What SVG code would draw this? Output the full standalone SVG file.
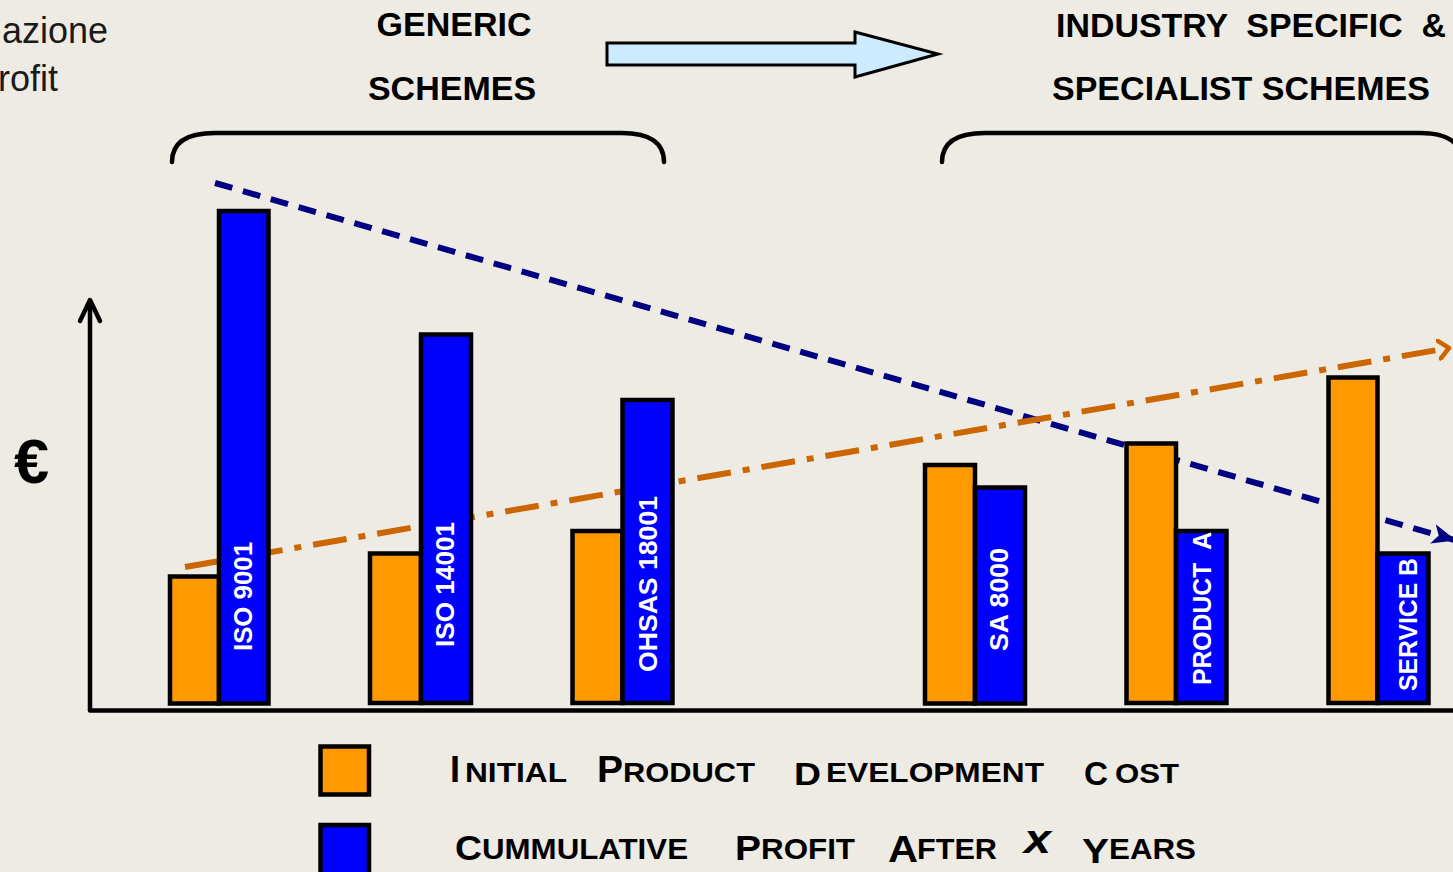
<svg xmlns="http://www.w3.org/2000/svg" width="1453" height="872" viewBox="0 0 1453 872">
<defs>
<style>
.bg{fill:#EEEBE4}
.hd{font-family:"Liberation Sans",Arial,sans-serif;font-weight:bold;font-size:34px;fill:#000}
.side{font-family:"Liberation Sans",Arial,sans-serif;font-size:36px;fill:#1a1a1a}
.org{fill:#FF9900;stroke:#000;stroke-width:4.5}
.blu{fill:#0000FF;stroke:#000;stroke-width:4.5}
.lbl{font-family:"Liberation Sans",Arial,sans-serif;font-weight:bold;font-size:26px;fill:#fff}
.lg{font-family:"Liberation Sans",Arial,sans-serif;font-weight:bold;fill:#000}
.brk{fill:none;stroke:#000;stroke-width:4.5;stroke-linecap:round}
.axis{fill:none;stroke:#000;stroke-width:4.5;stroke-linecap:round;stroke-linejoin:round}
</style>
<marker id="ahBlue" markerUnits="userSpaceOnUse" markerWidth="26" markerHeight="22" refX="24" refY="11" orient="auto" viewBox="0 0 26 22">
<path d="M0,1 L24,11 L0,21 L6,11 z" fill="#000080"/>
</marker>
<marker id="ahOrange" markerUnits="userSpaceOnUse" markerWidth="16" markerHeight="22" refX="12" refY="11" orient="auto" viewBox="0 0 16 22">
<path d="M2,2 L12,11 L2,20" fill="none" stroke="#CC6600" stroke-width="4.5" stroke-linecap="round" stroke-linejoin="round"/>
</marker>
</defs>
<rect class="bg" x="0" y="0" width="1453" height="872"/>

<g id="side-text">
<text class="side" x="108" y="43" text-anchor="end">azione</text>
<text class="side" x="58" y="91" text-anchor="end">rofit</text>
</g>

<g id="generic-header">
<text class="hd" x="454" y="36" text-anchor="middle">GENERIC</text>
<text class="hd" x="452" y="100" text-anchor="middle">SCHEMES</text>
<path class="brk" d="M172,162 C172,142 188,133 215,133 L622,133 C648,133 664,142 664,162"/>
</g>

<g id="specific-header">
<text class="hd" x="1056" y="37" textLength="390" lengthAdjust="spacingAndGlyphs" xml:space="preserve">INDUSTRY  SPECIFIC  &amp;</text>
<text class="hd" x="1052" y="100" textLength="378" lengthAdjust="spacingAndGlyphs">SPECIALIST SCHEMES</text>
<path class="brk" d="M942,162 C942,142 958,133 985,133 L1420,133 C1446,133 1462,142 1462,162"/>
</g>

<g id="transition-arrow">
<polygon points="607,43 855,43 855,32 938,54 855,77 855,65 607,65" fill="#CCEBFE" stroke="#000" stroke-width="3" stroke-linejoin="miter"/>
</g>

<g id="connectors">
<line x1="215" y1="183" x2="1456" y2="540.5" stroke="#000080" stroke-width="6" stroke-dasharray="18 11" marker-end="url(#ahBlue)"/>
<line x1="185" y1="567" x2="1449" y2="348" stroke="#CC6600" stroke-width="6" stroke-dasharray="34 12 7 12" marker-end="url(#ahOrange)"/>
</g>

<g id="axes">
<path class="axis" d="M90,710 L90,301"/>
<path class="axis" d="M80,321 L90,300 L100,321"/>
<path class="axis" d="M90,710.5 L1460,710.5" stroke-linecap="butt"/>
<text x="14" y="483" font-family="Liberation Sans, Arial, sans-serif" font-weight="bold" font-size="63" fill="#000">€</text>
</g>

<g id="iso9001">
<rect class="org" x="170" y="576.5" width="49" height="127"/>
<rect class="blu" x="219" y="211" width="49.5" height="492.5"/>
<text class="lbl" transform="translate(252,651) rotate(-90)" textLength="109" lengthAdjust="spacingAndGlyphs">ISO 9001</text>
</g>

<g id="iso14001">
<rect class="org" x="370" y="553.5" width="51" height="149.5"/>
<rect class="blu" x="421" y="334.5" width="50" height="368.5"/>
<text class="lbl" transform="translate(454,647) rotate(-90)" textLength="125" lengthAdjust="spacingAndGlyphs">ISO 14001</text>
</g>

<g id="ohsas18001">
<rect class="org" x="572.5" y="531" width="50" height="172"/>
<rect class="blu" x="622.5" y="400" width="50" height="303"/>
<text class="lbl" transform="translate(657,672) rotate(-90)" textLength="176" lengthAdjust="spacingAndGlyphs">OHSAS 18001</text>
</g>

<g id="sa8000">
<rect class="org" x="925" y="465" width="50" height="238.5"/>
<rect class="blu" x="975" y="487.5" width="50" height="216"/>
<text class="lbl" transform="translate(1008,651) rotate(-90)" textLength="103" lengthAdjust="spacingAndGlyphs">SA 8000</text>
</g>

<g id="productA">
<rect class="org" x="1126.5" y="443.5" width="49.5" height="259.5"/>
<rect class="blu" x="1176" y="531" width="50.5" height="172"/>
<text class="lbl" transform="translate(1211,685) rotate(-90)" textLength="153" lengthAdjust="spacingAndGlyphs" xml:space="preserve">PRODUCT  A</text>
</g>

<g id="serviceB">
<rect class="org" x="1328.5" y="377.5" width="49" height="325.5"/>
<rect class="blu" x="1377.5" y="553.5" width="51" height="149.5"/>
<text class="lbl" transform="translate(1417,691) rotate(-90)" textLength="133" lengthAdjust="spacingAndGlyphs">SERVICE B</text>
</g>

<g id="legend-cost">
<rect class="org" x="320.5" y="746.5" width="48.5" height="48"/>
<text class="lg" x="450" y="782" font-size="37" textLength="10" lengthAdjust="spacingAndGlyphs">I</text>
<text class="lg" x="465" y="782" font-size="28" textLength="102" lengthAdjust="spacingAndGlyphs">NITIAL</text>
<text class="lg" x="597" y="782" font-size="36" textLength="26" lengthAdjust="spacingAndGlyphs">P</text>
<text class="lg" x="623" y="782" font-size="28" textLength="132" lengthAdjust="spacingAndGlyphs">RODUCT</text>
<text class="lg" x="794" y="785" font-size="31" textLength="27" lengthAdjust="spacingAndGlyphs">D</text>
<text class="lg" x="826" y="782" font-size="28" textLength="218" lengthAdjust="spacingAndGlyphs">EVELOPMENT</text>
<text class="lg" x="1084" y="785" font-size="33" textLength="24" lengthAdjust="spacingAndGlyphs">C</text>
<text class="lg" x="1115" y="783" font-size="28" textLength="64" lengthAdjust="spacingAndGlyphs">OST</text>
</g>

<g id="legend-profit">
<rect class="blu" x="320.5" y="825" width="48.5" height="52"/>
<text class="lg" x="455" y="860" font-size="35" textLength="27" lengthAdjust="spacingAndGlyphs">C</text>
<text class="lg" x="482" y="859" font-size="30" textLength="206" lengthAdjust="spacingAndGlyphs">UMMULATIVE</text>
<text class="lg" x="735" y="860" font-size="35" textLength="26" lengthAdjust="spacingAndGlyphs">P</text>
<text class="lg" x="761" y="859" font-size="30" textLength="94" lengthAdjust="spacingAndGlyphs">ROFIT</text>
<text class="lg" x="888" y="862" font-size="36" textLength="30" lengthAdjust="spacingAndGlyphs">A</text>
<text class="lg" x="917" y="859" font-size="30" textLength="80" lengthAdjust="spacingAndGlyphs">FTER</text>
<text class="lg" x="1024" y="853" font-size="40" font-style="italic" textLength="27" lengthAdjust="spacingAndGlyphs">x</text>
<text class="lg" x="1082" y="863" font-size="35" textLength="27" lengthAdjust="spacingAndGlyphs">Y</text>
<text class="lg" x="1109" y="859" font-size="30" textLength="87" lengthAdjust="spacingAndGlyphs">EARS</text>
</g>
</svg>
